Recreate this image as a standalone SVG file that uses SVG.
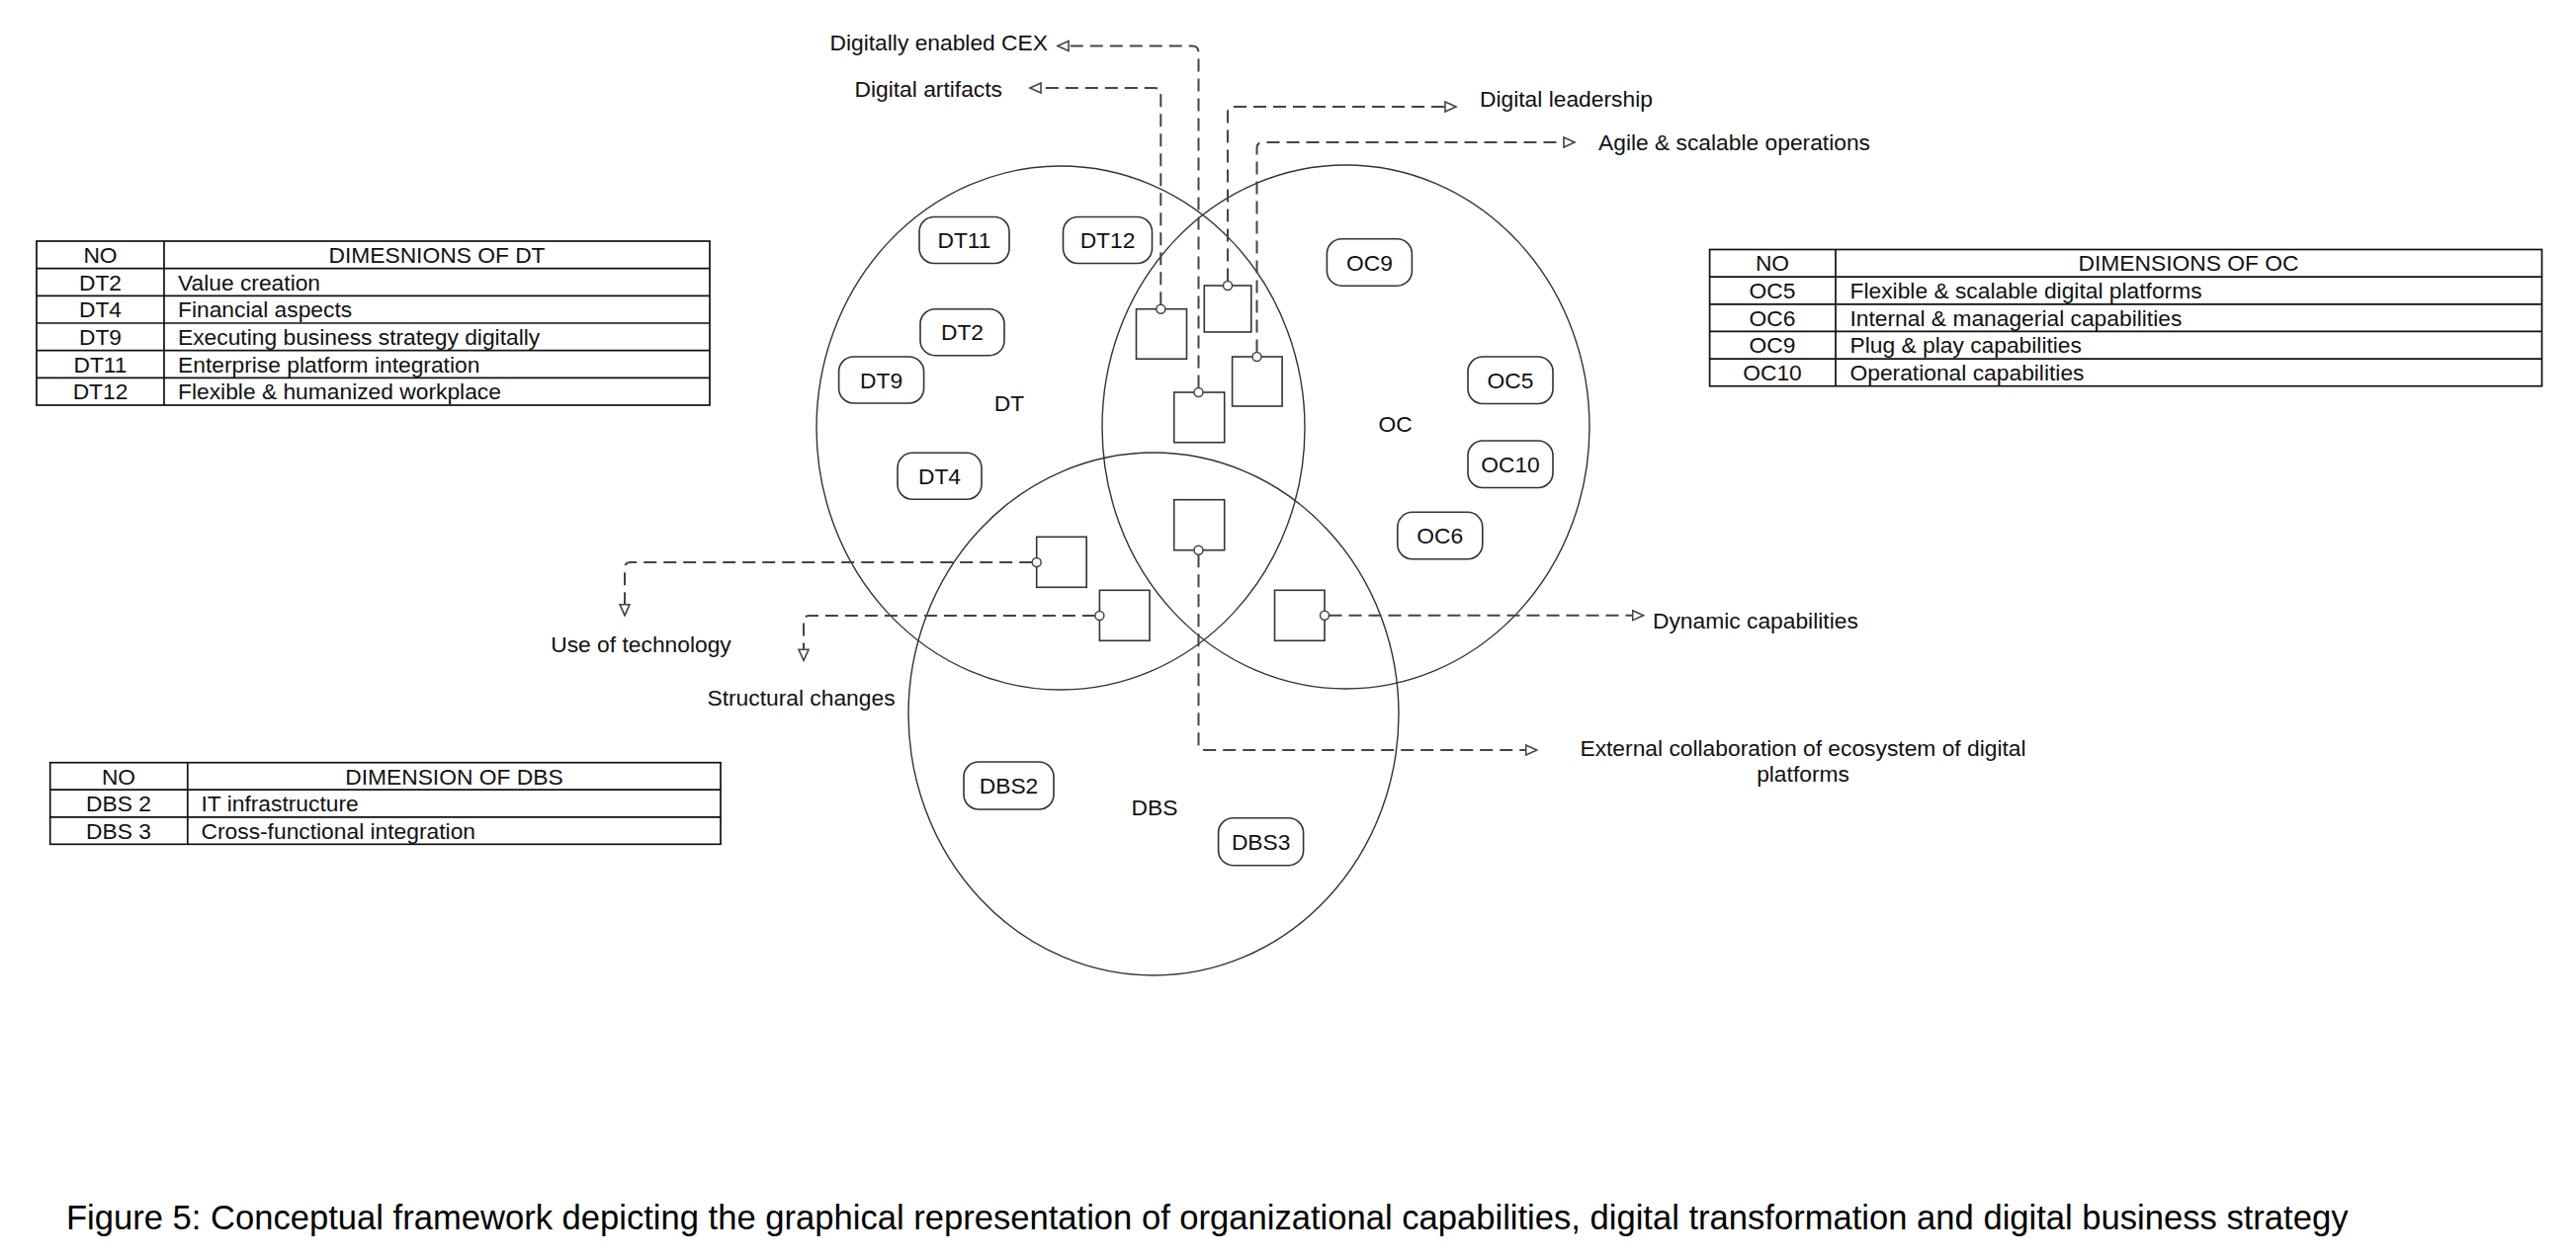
<svg xmlns="http://www.w3.org/2000/svg" width="2606" height="1274" viewBox="0 0 2606 1274">
<style>
.t{font-family:"Liberation Sans",Arial,Helvetica,sans-serif;font-size:22.8px;fill:#111}
.c{text-anchor:middle}
.e{text-anchor:end}
.cap{font-family:"Liberation Sans",Arial,Helvetica,sans-serif;font-size:34.6px;fill:#000}
.set{fill:none;stroke:#333;stroke-width:1.4}
.node rect{fill:#fff;stroke:#333;stroke-width:1.6}
.sq{fill:#fff;stroke:#333;stroke-width:1.6}
.conn{fill:none;stroke:#444;stroke-width:2;stroke-dasharray:13 7}
.port{fill:#fff;stroke:#444;stroke-width:1.5}
.tb{fill:none;stroke:#111;stroke-width:1.7}
</style>
<defs>
<marker id="arr" markerUnits="userSpaceOnUse" markerWidth="14" markerHeight="14" refX="11" refY="5" orient="auto" viewBox="-1 -1 14 12">
<path d="M0,0 L11,5 L0,10 Z" fill="#fff" stroke="#444" stroke-width="1.6" stroke-dasharray="none"/>
</marker>
</defs>
<rect width="2606" height="1274" fill="#fff"/>

<g id="sets">
<ellipse id="set-DT" class="set" cx="1073" cy="433" rx="247" ry="265"/>
<ellipse id="set-OC" class="set" cx="1361.5" cy="432" rx="246.5" ry="265"/>
<ellipse id="set-DBS" class="set" cx="1167" cy="722.5" rx="248" ry="264.5"/>
<text class="t c" x="1021" y="416">DT</text>
<text class="t c" x="1411.6" y="437">OC</text>
<text class="t c" x="1168" y="825">DBS</text>
</g>

<g id="node-DT11" class="node"><rect x="930" y="219.5" width="91" height="47" rx="15"/><text class="t c" x="975.5" y="250.7">DT11</text></g>
<g id="node-DT12" class="node"><rect x="1075.5" y="219.5" width="90" height="47" rx="15"/><text class="t c" x="1120.5" y="250.7">DT12</text></g>
<g id="node-DT2" class="node"><rect x="931" y="312.7" width="85" height="47" rx="15"/><text class="t c" x="973.5" y="344.3">DT2</text></g>
<g id="node-DT9" class="node"><rect x="848.6" y="361" width="86" height="47" rx="15"/><text class="t c" x="891.6" y="392.7">DT9</text></g>
<g id="node-DT4" class="node"><rect x="908" y="458.3" width="85" height="47" rx="15"/><text class="t c" x="950.5" y="490">DT4</text></g>
<g id="node-OC9" class="node"><rect x="1342.4" y="241.7" width="86" height="47.5" rx="15"/><text class="t c" x="1385.5" y="273.5">OC9</text></g>
<g id="node-OC5" class="node"><rect x="1485" y="361" width="86" height="47.5" rx="15"/><text class="t c" x="1528" y="392.7">OC5</text></g>
<g id="node-OC10" class="node"><rect x="1485" y="446" width="86" height="47.5" rx="15"/><text class="t c" x="1528" y="477.7">OC10</text></g>
<g id="node-OC6" class="node"><rect x="1413.8" y="518.3" width="86" height="47.5" rx="15"/><text class="t c" x="1456.7" y="550">OC6</text></g>
<g id="node-DBS2" class="node"><rect x="975" y="771" width="91" height="48" rx="15"/><text class="t c" x="1020.5" y="803">DBS2</text></g>
<g id="node-DBS3" class="node"><rect x="1232.6" y="827.7" width="86" height="48" rx="15"/><text class="t c" x="1275.7" y="859.7">DBS3</text></g>

<g id="junctions">
<rect id="sq-A" class="sq" x="1149.5" y="312.7" width="51" height="50.5"/>
<rect id="sq-B" class="sq" x="1218.3" y="289" width="47.5" height="47"/>
<rect id="sq-C" class="sq" x="1246.6" y="361" width="50.5" height="50"/>
<rect id="sq-D" class="sq" x="1187.7" y="397" width="51" height="50.7"/>
<rect id="sq-E" class="sq" x="1187.7" y="505.7" width="51" height="51"/>
<rect id="sq-F" class="sq" x="1048.7" y="543.3" width="50.5" height="51"/>
<rect id="sq-G" class="sq" x="1112.4" y="597.3" width="50.6" height="51"/>
<rect id="sq-H" class="sq" x="1289.5" y="597.3" width="50.5" height="51"/>
</g>

<g id="connectors">
<path class="conn" marker-end="url(#arr)" d="M1212.5,392.5 V53 Q1212.5,46.5 1206,46.5 H1070"/>
<path class="conn" marker-end="url(#arr)" d="M1174.3,308.2 V95.5 Q1174.3,89 1168,89 H1042"/>
<path class="conn" marker-end="url(#arr)" d="M1242,284.5 V114 Q1242,108 1248,108 H1473"/>
<path class="conn" marker-end="url(#arr)" d="M1271.5,356.5 V150 Q1271.5,144 1277.5,144 H1593"/>
<path class="conn" marker-end="url(#arr)" d="M1044.2,569 H638 Q632,569 632,575 V622.7"/>
<path class="conn" marker-end="url(#arr)" d="M1107.9,623 H819 Q813,623 813,629 V668.3"/>
<path class="conn" marker-end="url(#arr)" d="M1344.5,622.7 H1662.6"/>
<path class="conn" marker-end="url(#arr)" d="M1212.5,561.2 V753 Q1212.5,759 1218.5,759 H1554.7"/>
<circle class="port" cx="1174.3" cy="312.7" r="4.5"/>
<circle class="port" cx="1242" cy="289" r="4.5"/>
<circle class="port" cx="1271.5" cy="361" r="4.5"/>
<circle class="port" cx="1212.5" cy="397" r="4.5"/>
<circle class="port" cx="1212.5" cy="556.7" r="4.5"/>
<circle class="port" cx="1048.7" cy="569" r="4.5"/>
<circle class="port" cx="1112.4" cy="623" r="4.5"/>
<circle class="port" cx="1340" cy="622.7" r="4.5"/>
</g>

<g id="connector-labels">
<text class="t e" x="1060" y="51">Digitally enabled CEX</text>
<text class="t e" x="1014" y="98">Digital artifacts</text>
<text class="t" x="1497" y="108">Digital leadership</text>
<text class="t" x="1617" y="152">Agile &amp; scalable operations</text>
<text class="t c" x="648.5" y="660">Use of technology</text>
<text class="t c" x="810.5" y="714">Structural changes</text>
<text class="t" x="1672" y="636">Dynamic capabilities</text>
<text class="t c" x="1824" y="765">External collaboration of ecosystem of digital</text>
<text class="t c" x="1824" y="791">platforms</text>
</g>

<g id="table-DT">
<rect class="tb" x="37" y="244" width="681" height="166"/>
<path class="tb" d="M166,244 V410 M37,271.7 H718 M37,299.3 H718 M37,327 H718 M37,354.7 H718 M37,382.3 H718"/>
<text class="t c" x="101.5" y="266">NO</text>
<text class="t c" x="442" y="266">DIMESNIONS OF DT</text>
<text class="t c" x="101.5" y="293.5">DT2</text>
<text class="t" x="180" y="293.5">Value creation</text>
<text class="t c" x="101.5" y="321.2">DT4</text>
<text class="t" x="180" y="321.2">Financial aspects</text>
<text class="t c" x="101.5" y="348.8">DT9</text>
<text class="t" x="180" y="348.8">Executing business strategy digitally</text>
<text class="t c" x="101.5" y="376.5">DT11</text>
<text class="t" x="180" y="376.5">Enterprise platform integration</text>
<text class="t c" x="101.5" y="404.2">DT12</text>
<text class="t" x="180" y="404.2">Flexible &amp; humanized workplace</text>
</g>

<g id="table-OC">
<rect class="tb" x="1729.6" y="252.5" width="841.9" height="138.2"/>
<path class="tb" d="M1857,252.5 V390.7 M1729.6,280.1 H2571.5 M1729.6,307.8 H2571.5 M1729.6,335.4 H2571.5 M1729.6,363.1 H2571.5"/>
<text class="t c" x="1793" y="274.3">NO</text>
<text class="t c" x="2214" y="274.3">DIMENSIONS OF OC</text>
<text class="t c" x="1793" y="302">OC5</text>
<text class="t" x="1871.5" y="302">Flexible &amp; scalable digital platforms</text>
<text class="t c" x="1793" y="329.6">OC6</text>
<text class="t" x="1871.5" y="329.6">Internal &amp; managerial capabilities</text>
<text class="t c" x="1793" y="357.3">OC9</text>
<text class="t" x="1871.5" y="357.3">Plug &amp; play capabilities</text>
<text class="t c" x="1793" y="384.9">OC10</text>
<text class="t" x="1871.5" y="384.9">Operational capabilities</text>
</g>

<g id="table-DBS">
<rect class="tb" x="50.7" y="771.7" width="678.3" height="82.6"/>
<path class="tb" d="M189.8,771.7 V854.3 M50.7,799.2 H729 M50.7,826.8 H729"/>
<text class="t c" x="120" y="793.5">NO</text>
<text class="t c" x="459.4" y="793.5">DIMENSION OF DBS</text>
<text class="t c" x="120" y="821">DBS 2</text>
<text class="t" x="203.5" y="821">IT infrastructure</text>
<text class="t c" x="120" y="848.5">DBS 3</text>
<text class="t" x="203.5" y="848.5">Cross-functional integration</text>
</g>

<text class="cap" x="67" y="1244">Figure 5: Conceptual framework depicting the graphical representation of organizational capabilities, digital transformation and digital business strategy</text>
</svg>
